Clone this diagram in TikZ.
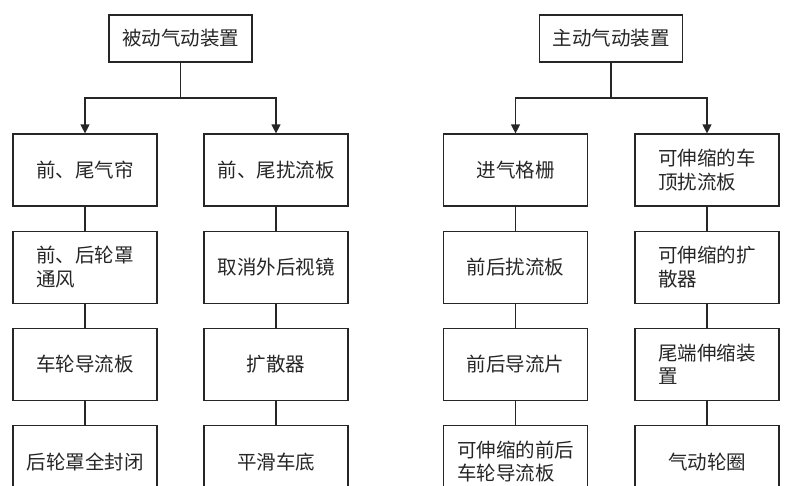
\documentclass[tikz,border=0pt]{standalone}
\usepackage{fontspec}
\newfontfamily\cjk{Noto Sans CJK SC}
\usetikzlibrary{arrows.meta,positioning}
\tikzset{
  box/.style={draw=black!85, line width=1.2pt, minimum width=144pt, minimum height=72pt,
    inner sep=2pt, align=left, text=black!85, font=\cjk\fontsize{19.5}{23.5}\selectfont},
  head/.style={box, minimum width=143pt, minimum height=47pt},
}
\begin{document}
\begin{tikzpicture}[x=1pt, y=1pt, node distance=24pt, >={Triangle[length=9pt,width=9pt]}]
            \clip (0,0) rectangle (789,-485);
            % passive side
            \node[head] (1) at (180.5,-38.5) {被动气动装置};
            \coordinate (j1) at (180.5,-98);
            \node[box] (2) at (85,-170) {前、尾气帘};
            \node[box] (3) at (276,-170) {前、尾扰流板};
            \node[box] (4) [below=of 2] {前、后轮罩\\通风};
            \node[box] (5) [below=of 3] {取消外后视镜};
            \node[box] (6) [below=of 4] {车轮导流板};
            \node[box] (7) [below=of 5] {扩散器};
            \node[box] (8) [below=of 6] {后轮罩全封闭};
            \node[box] (9) [below=of 7] {平滑车底};

            % active side
            \node[head] (11) at (611,-38.5) {主动气动装置};
            \coordinate (j2) at (611,-98);
            \node[box] (12) at (515.5,-170) {进气格栅};
            \node[box] (13) at (707,-170) {可伸缩的车\\顶扰流板};
            \node[box] (14) [below=of 12] {前后扰流板};
            \node[box] (15) [below=of 13] {可伸缩的扩\\散器};
            \node[box] (16) [below=of 14] {前后导流片};
            \node[box] (17) [below=of 15] {尾端伸缩装\\置};
            \node[box] (18) [below=of 16] {可伸缩的前后\\车轮导流板};
            \node[box] (19) [below=of 17] {气动轮圈};

            \draw[line width=1.2pt, draw=black!85] (1) -- (j1) (11) -- (j2);
            \draw[->, line width=1.2pt, draw=black!85] (j1) -| (2);
            \draw[->, line width=1.2pt, draw=black!85] (j1) -| (3);
            \draw[->, line width=1.2pt, draw=black!85] (j2) -| (12);
            \draw[->, line width=1.2pt, draw=black!85] (j2) -| (13);

            \path[line width=1.2pt, draw=black!85]
            (2) edge (4)
            (4) edge (6)
            (6) edge (8)
            (3) edge (5)
            (5) edge (7)
            (7) edge (9)
            (12) edge (14)
            (14) edge (16)
            (16) edge (18)
            (13) edge (15)
            (15) edge (17)
            (17) edge (19);
        \end{tikzpicture}
\end{document}
